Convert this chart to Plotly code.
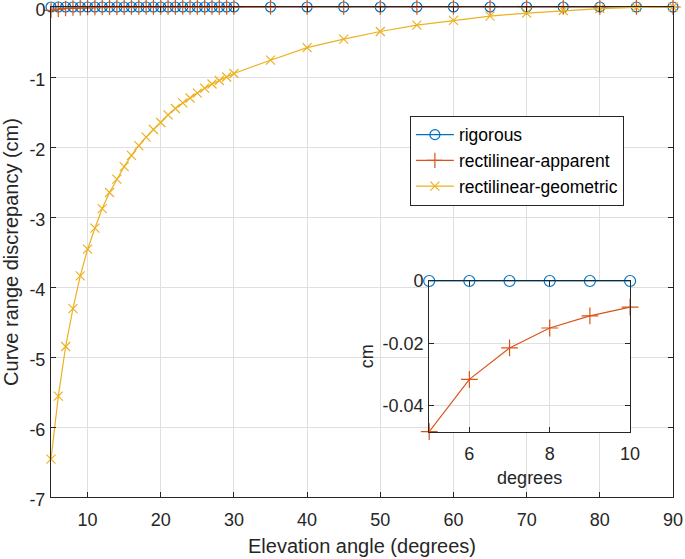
import plotly.graph_objects as go

# elevation angles (degrees)
elevation = [5, 6, 7, 8, 9, 10, 11, 12, 13, 14, 15, 16, 17, 18, 19, 20,
             21, 22, 23, 24, 25, 26, 27, 28, 29, 30,
             35, 40, 45, 50, 55, 60, 65, 70, 75, 80, 85, 90]

# curve range discrepancy (cm)
rigorous = [0.0] * len(elevation)
rect_apparent = [-0.0484, -0.0316, -0.0215, -0.0151, -0.0112, -0.0084,
                 -0.0065, -0.0051, -0.0041, -0.0033, -0.0027, -0.0023,
                 -0.0019, -0.0016, -0.0014, -0.0012, -0.0011, -0.0009,
                 -0.0008, -0.0007, -0.0006, -0.0006, -0.0005, -0.0005,
                 -0.0004, -0.0004,
                 -0.0002, -0.0001, -0.0001, -0.0001, 0.0, 0.0, 0.0, 0.0,
                 0.0, 0.0, 0.0, 0.0]
rect_geometric = [-6.46, -5.56, -4.85, -4.31, -3.84, -3.46, -3.16, -2.88,
                  -2.65, -2.46, -2.28, -2.12, -1.98, -1.86, -1.75, -1.65,
                  -1.54, -1.45, -1.37, -1.30, -1.23, -1.16, -1.10, -1.05,
                  -1.00, -0.95,
                  -0.76, -0.58, -0.46, -0.35, -0.26, -0.19, -0.13, -0.087,
                  -0.05, -0.022, -0.006, 0.0]

x_ticks = [10, 20, 30, 40, 50, 60, 70, 80, 90]
y_ticks = [-7, -6, -5, -4, -3, -2, -1, 0]
y_ticklabels = ["-7", "-6", "-5", "-4", "-3", "-2", "-1", "0"]

# inset (zoom on 5-10 degrees)
n_inset = 6
inset_x_ticks = [6, 8, 10]
inset_y_ticks = [-0.04, -0.02, 0]
inset_y_ticklabels = ["-0.04", "-0.02", "0"]
inset_y_range = [-0.0484, 0]

BLUE = "#0072BD"
RED = "#D95319"
YELLOW = "#EDB120"
AX = "#262626"
GRID = "#dfdfdf"
FONT = "Liberation Sans, Arial, sans-serif"

fig = go.Figure()

series = [
    ("rigorous", rigorous, BLUE, "circle-open", 10),
    ("rectilinear-apparent", rect_apparent, RED, "cross-thin", 11),
    ("rectilinear-geometric", rect_geometric, YELLOW, "x-thin", 9),
]

for name, vals, color, sym, size in series:
    fig.add_trace(go.Scatter(
        x=elevation, y=vals, name=name, mode="lines+markers",
        line=dict(color=color, width=1.2),
        marker=dict(symbol=sym, size=size, color=color,
                    line=dict(color=color, width=1.2)),
        cliponaxis=False, xaxis="x", yaxis="y"))

for name, vals, color, sym, size in series[:2]:
    fig.add_trace(go.Scatter(
        x=elevation[:n_inset], y=vals[:n_inset], name=name,
        mode="lines+markers", showlegend=False,
        line=dict(color=color, width=1.2),
        marker=dict(symbol=sym, size=size + 1, color=color,
                    line=dict(color=color, width=1.2)),
        cliponaxis=False, xaxis="x2", yaxis="y2"))

axis_style = dict(
    showline=True, linecolor=AX, linewidth=1, mirror="ticks",
    ticks="inside", ticklen=5, tickcolor=AX, tickwidth=1,
    showgrid=True, gridcolor=GRID, gridwidth=1, zeroline=False,
    automargin=False, ticklabeloverflow="allow",
    tickfont=dict(family=FONT, size=18, color=AX),
)

fig.update_layout(
    width=685, height=559,
    margin=dict(l=51, r=12, t=7, b=62),
    paper_bgcolor="white", plot_bgcolor="white",
    font=dict(family=FONT, color=AX),
    xaxis=dict(domain=[0, 1], range=[5, 90], tickvals=x_ticks,
               ticklabelstandoff=6,
               title=dict(text="Elevation angle (degrees)",
                          font=dict(size=20), standoff=10),
               **axis_style),
    yaxis=dict(domain=[0, 1], range=[-7, 0], tickvals=y_ticks,
               ticktext=y_ticklabels, ticklabelstandoff=1,
               ticklabelshift=3,
               title=dict(text="Curve range discrepancy (cm)",
                          font=dict(size=20), standoff=8),
               **axis_style),
    xaxis2=dict(domain=[0.608, 0.931], anchor="y2", range=[5, 10],
                tickvals=inset_x_ticks, ticklabelstandoff=6,
                title=dict(text="degrees", font=dict(size=18), standoff=8),
                **axis_style),
    yaxis2=dict(domain=[0.1333, 0.4408], anchor="x2", range=inset_y_range,
                tickvals=inset_y_ticks, ticktext=inset_y_ticklabels,
                ticklabelstandoff=1,
                title=dict(text="cm", font=dict(size=18), standoff=4),
                **axis_style),
    legend=dict(x=0.577, y=0.778, xanchor="left", yanchor="top",
                bgcolor="white", bordercolor=AX, borderwidth=1,
                font=dict(family=FONT, size=17.5, color="#000000"),
                itemwidth=38, tracegroupgap=0),
    showlegend=True,
    shapes=[dict(type="rect", xref="x2", yref="y2",
                 x0=5, x1=10, y0=inset_y_range[0], y1=inset_y_range[1],
                 fillcolor="white", line=dict(width=0), layer="below")],
)

# drop the default page margin so the figure sits at the window corner
fig.write_html("out.html", config={"displayModeBar": False},
               post_script="document.body.style.margin='0';")
